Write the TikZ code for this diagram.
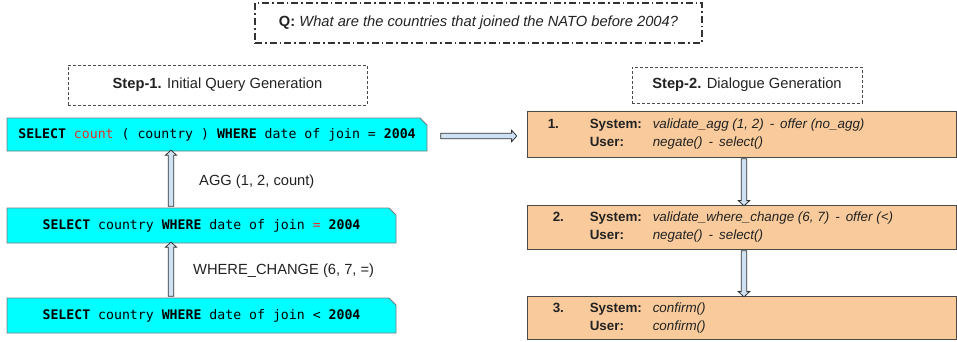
\documentclass[tikz,border=0pt]{standalone}
\usepackage{fontspec}
\setmainfont{Liberation Sans}
\setmonofont{DejaVu Sans Mono}
\usetikzlibrary{shapes.misc,shapes.arrows,calc}
\definecolor{sqlcyan}{HTML}{00FFFF}
\definecolor{sqlborder}{HTML}{7A7A7A}
\definecolor{sqlred}{HTML}{E0322B}
\definecolor{dlgorange}{HTML}{F9CB9C}
\definecolor{dlgborder}{HTML}{4A4A4A}
\definecolor{arrowblue}{HTML}{CFE2F3}
\definecolor{arrowline}{HTML}{333333}
\definecolor{txt}{HTML}{222222}
\begin{document}
\begin{tikzpicture}[x=1pt,y=-1pt,
  font=\fontsize{14.7}{17}\selectfont, text=txt,
  qbox/.style={draw=arrowline, line width=1.6pt,
    dash pattern=on 7pt off 3pt on 1.6pt off 3pt,
    minimum width=447pt, minimum height=40pt, inner sep=0pt},
  stepbox/.style={draw=dlgborder, line width=0.8pt,
    dash pattern=on 3pt off 2pt, inner sep=0pt},
  sqlbox/.style={chamfered rectangle, chamfered rectangle corners=north east,
    chamfered rectangle xsep=3.5pt, chamfered rectangle ysep=3.5pt,
    draw=sqlborder, fill=sqlcyan, line width=0.8pt, inner sep=0pt,
    text=black, font=\ttfamily\fontsize{13.2}{15}\selectfont},
  dlgbox/.style={chamfered rectangle, chamfered rectangle corners=north east,
    chamfered rectangle xsep=3pt, chamfered rectangle ysep=3pt,
    draw=dlgborder, fill=dlgorange, line width=0.9pt, inner sep=0pt},
  dlgtext/.style={anchor=west, inner sep=0pt, font=\fontsize{13.4}{18}\selectfont},
  % hollow block arrow running from the start point to the end point
  arrowshape/.style={single arrow, draw=arrowline, fill=arrowblue,
    line width=0.8pt, inner xsep=0pt, inner ysep=2.4pt,
    minimum width=0pt, single arrow head extend=2.9pt,
    single arrow tip angle=95},
  blockarrow/.style={to path={
    let \p1=(\tikztostart), \p2=(\tikztotarget),
        \n1={atan2(\y2-\y1,\x2-\x1)}, \n2={veclen(\x2-\x1,\y2-\y1)} in
    node[arrowshape, minimum height=\n2, rotate=\n1] at ($(\p1)!.5!(\p2)$) {}}},
  lbl/.style={anchor=west, inner sep=0pt}
]
\useasboundingbox (0,0) rectangle (957,342);

% question
\node[qbox] (q) at (478.5,23)
  {\textbf{Q:} \textit{What are the countries that joined the NATO before 2004?}};

% step headers
\node[stepbox, minimum width=299pt, minimum height=40pt] (s1) at (217.5,85)
  {\textbf{Step-1.} Initial Query Generation};
\node[stepbox, minimum width=230pt, minimum height=36pt] (s2) at (747,85)
  {\textbf{Step-2.} Dialogue Generation};

% SQL queries
\node[sqlbox, minimum width=420pt, minimum height=33pt] (sql1) at (217,134.5)
  {\textbf{SELECT} \textcolor{sqlred}{count} ( country ) \textbf{WHERE} date of join = \textbf{2004}};
\node[sqlbox, minimum width=389pt, minimum height=35pt] (sql2) at (201.5,225.5)
  {\textbf{SELECT} country \textbf{WHERE} date of join \textcolor{sqlred}{=} \textbf{2004}};
\node[sqlbox, minimum width=389pt, minimum height=35pt] (sql3) at (201.5,315.5)
  {\textbf{SELECT} country \textbf{WHERE} date of join < \textbf{2004}};

% dialogue turns
\newcommand{\dash}{\hspace{0.45em}-\hspace{0.45em}}
\node[dlgbox, minimum width=429pt, minimum height=46pt] (d1) at (741.5,134) {};
\node[dlgtext] (d1t) at ([xshift=21pt]d1.west)
  {\begin{tabular}{@{}p{42pt}@{}p{63pt}@{}l@{}}
    \textbf{1.} & \textbf{System:} & \textit{validate\_agg (1, 2)\dash offer (no\_agg)}\\
     & \textbf{User:} & \textit{negate()\dash select()}
  \end{tabular}};
\node[dlgbox, minimum width=429pt, minimum height=44pt] (d2) at (741.5,227) {};
\node[dlgtext] (d2t) at ([xshift=21pt]d2.west)
  {\begin{tabular}{@{}p{42pt}@{}p{63pt}@{}l@{}}
    \hspace{5pt}\textbf{2.} & \textbf{System:} & \textit{validate\_where\_change (6, 7)\dash offer (<)}\\
     & \textbf{User:} & \textit{negate()\dash select()}
  \end{tabular}};
\node[dlgbox, minimum width=429pt, minimum height=43pt] (d3) at (741.5,317.5) {};
\node[dlgtext] (d3t) at ([xshift=21pt]d3.west)
  {\begin{tabular}{@{}p{42pt}@{}p{63pt}@{}l@{}}
    \hspace{5pt}\textbf{3.} & \textbf{System:} & \textit{confirm()}\\
     & \textbf{User:} & \textit{confirm()}
  \end{tabular}};

% transitions
\coordinate (lx) at (171,0);
\coordinate (rx) at (744,0);
\coordinate (hs) at ($(sql1.east)+(12,1.5)$);
\coordinate (he) at ($(d1.west |- sql1.east)+(-11,1.5)$);
\path[blockarrow] (sql2.north -| lx) to (sql1.south -| lx);
\path[blockarrow] (sql3.north -| lx) to (sql2.south -| lx);
\path[blockarrow] (hs) to (he);
\path[blockarrow] (d1.south -| rx) to (d2.north -| rx);
\path[blockarrow] (d2.south -| rx) to (d3.north -| rx);

\node[lbl] (agg) at (199,182) {AGG (1, 2, count)};
\node[lbl] (wc) at (193,271) {WHERE\_CHANGE (6, 7, =)};
\end{tikzpicture}
\end{document}
